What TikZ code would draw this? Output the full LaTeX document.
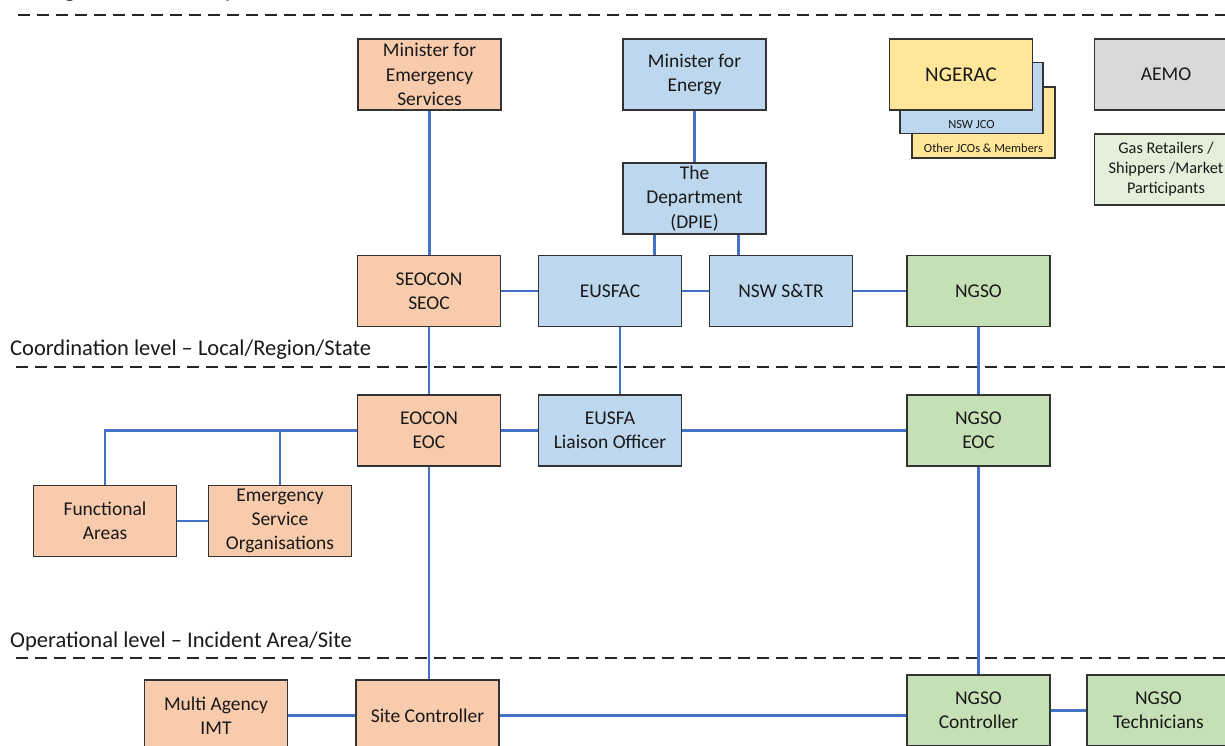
\documentclass[tikz,border=0pt]{standalone}
\usepackage{fontspec}
\setmainfont{Carlito}
\usetikzlibrary{calc}
\definecolor{orng}{HTML}{F8CBAD}
\definecolor{blu}{HTML}{BDD7EE}
\definecolor{grn}{HTML}{C5E0B4}
\definecolor{lgrn}{HTML}{E2F0D9}
\definecolor{gry}{HTML}{D9D9D9}
\definecolor{ylw}{HTML}{FFE699}
\definecolor{linkblue}{HTML}{4472C4}
\begin{document}
\begin{tikzpicture}[x=1pt,y=-1pt,
  box/.style={draw=black!80, line width=1.1pt, minimum width=143pt, minimum height=71pt,
    align=center, inner sep=1pt, text=black!90, font=\fontsize{19.5}{24.2}\selectfont},
  conn/.style={draw=linkblue, line width=2.2pt},
  levelline/.style={draw=black!85, line width=1.5pt, dash pattern=on 12pt off 7pt},
  levellabel/.style={anchor=base west, inner sep=0pt, text=black!90, font=\fontsize{22.5}{27}\selectfont},
  smalltext/.style={inner sep=0pt, text=black!90, font=\fontsize{12.5}{15}\selectfont}]
\useasboundingbox (0,0) rectangle (1225,745);
\clip (0,0) rectangle (1225,745);
% level lines and labels
\node[levellabel] (lvl1) at (10,-2.5) {Strategic level – Ministry};
\coordinate (d1a) at (18,15); \coordinate (d1b) at (1225,15);
\coordinate (d2a) at (16,367); \coordinate (d2b) at (1225,367);
\coordinate (d3a) at (16,658); \coordinate (d3b) at (1225,658);
\draw[levelline] (d1a) -- (d1b);
\draw[levelline] (d2a) -- (d2b);
\draw[levelline] (d3a) -- (d3b);
\node[levellabel] (lvl2) at (10,355) {Coordination level – Local/Region/State};
\node[levellabel] (lvl3) at (10,647) {Operational level – Incident Area/Site};
% top row
\node[box, fill=orng] (mes) at (429.5,74.5) {Minister for\\Emergency\\Services};
\node[box, fill=blu] (mfe) at (694.5,74.5) {Minister for\\Energy};
\node[box, fill=ylw] (other) at (983.5,122.5) {};
\node[smalltext] (othert) at (983.5,148) {Other JCOs \& Members};
\node[box, fill=blu] (jco) at (971.5,98) {};
\node[smalltext] (jcot) at (971.5,124) {NSW JCO};
\node[box, fill=ylw, font=\fontsize{21}{25}\selectfont] (ngerac) at (961,74.5) {NGERAC};
\node[box, fill=gry] (aemo) at (1166,74.5) {AEMO};
\node[box, fill=lgrn, font=\fontsize{16.3}{20}\selectfont] (gas) at (1166,169.5) {Gas Retailers /\\Shippers /Market\\Participants};
\node[box, fill=blu] (dept) at (694.5,198.5) {The\\Department\\(DPIE)};
% state row
\node[box, fill=orng] (seocon) at (429,291) {SEOCON\\SEOC};
\node[box, fill=blu] (eusfac) at (610,291) {EUSFAC};
\node[box, fill=blu] (nswstr) at (781,291) {NSW S\&TR};
\node[box, fill=grn] (ngso) at (978.5,291) {NGSO};
% coordination row
\node[box, fill=orng] (eocon) at (429,430.5) {EOCON\\EOC};
\node[box, fill=blu] (eusfa) at (610,430.5) {EUSFA\\Liaison Officer};
\node[box, fill=grn] (ngsoeoc) at (978.5,430.5) {NGSO\\EOC};
\node[box, fill=orng] (func) at (105,521) {Functional\\Areas};
\node[box, fill=orng] (eso) at (280,521) {Emergency\\Service\\Organisations};
% operational row
\node[box, fill=orng] (imt) at (216,715.5) {Multi Agency\\IMT};
\node[box, fill=orng] (site) at (427.5,715.5) {Site Controller};
\node[box, fill=grn] (ngsoc) at (978.5,710.5) {NGSO\\Controller};
\node[box, fill=grn] (ngsot) at (1158.5,710.5) {NGSO\\Technicians};
% connectors
\draw[conn] (mes.south) -- (mes.south |- seocon.north);
\draw[conn] (mfe.south) -- (dept.north);
\draw[conn] ([xshift=-40pt]dept.south) -- ([xshift=-40pt]dept.south |- eusfac.north);
\draw[conn] ([xshift=44pt]dept.south) -- ([xshift=44pt]dept.south |- nswstr.north);
\draw[conn] (seocon.east) -- (eusfac.west);
\draw[conn] (eusfac.east) -- (nswstr.west);
\draw[conn] (nswstr.east) -- (ngso.west);
\draw[conn] (seocon.south) -- (eocon.north);
\draw[conn] ([xshift=10pt]eusfac.south) -- ([xshift=10pt]eusfac.south |- eusfa.north);
\draw[conn] (ngso.south) -- (ngsoeoc.north);
\draw[conn] (eocon.east) -- (eusfa.west);
\draw[conn] (eusfa.east) -- (ngsoeoc.west);
\draw[conn] (eocon.west) -| (func.north);
\draw[conn] (eocon.west -| eso.north) -- (eso.north);
\draw[conn] (func.east) -- (eso.west);
\draw[conn] (eocon.south) -- (eocon.south |- site.north);
\draw[conn] (ngsoeoc.south) -- (ngsoc.north);
\draw[conn] (imt.east) -- (site.west);
\draw[conn] (site.east) -- (site.east -| ngsoc.west);
\draw[conn] (ngsoc.east) -- (ngsot.west);
\end{tikzpicture}
\end{document}
